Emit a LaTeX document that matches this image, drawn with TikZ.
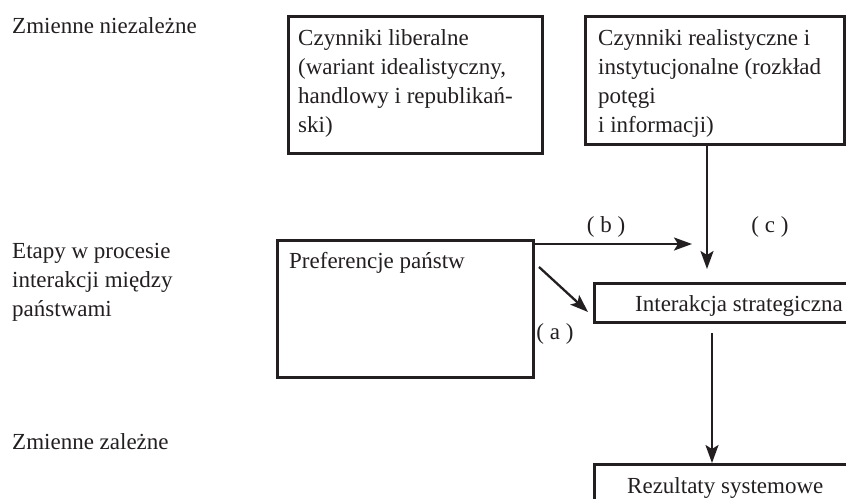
\documentclass[tikz,border=0pt]{standalone}
\usepackage{fontspec}
\setmainfont{Liberation Serif}
\usetikzlibrary{arrows.meta,positioning}
\definecolor{ink}{RGB}{35,31,32}
\tikzset{
  >={Stealth[length=18pt,width=13pt,inset=4pt]},
  frame/.style={draw=ink,line width=2.6pt,inner sep=0pt,anchor=north west},
  txt/.style={text=ink,font=\fontsize{23}{29}\selectfont,align=left,inner sep=0pt,anchor=base west},
  tag/.style={text=ink,font=\fontsize{23}{29}\selectfont,inner sep=0pt,anchor=base},
  flow/.style={->,draw=ink,line width=2.3pt},
}
\begin{document}
\begin{tikzpicture}[x=1pt,y=-1pt]
  \useasboundingbox (0,0) rectangle (846,498);
  \clip (0,0) rectangle (846,498);
  % row labels (multi-line texts sit on their last baseline)
  \node[txt] (indep) at (12,33) {Zmienne niezależne};
  \node[txt] (stages) at (12,316) {Etapy w procesie\\interakcji między\\państwami};
  \node[txt] (dep) at (12,449) {Zmienne zależne};
  % boxes
  \node[frame,minimum width=254pt,minimum height=137pt] (liberal) at (287,15) {};
  \node[frame,minimum width=259pt,minimum height=128pt] (realist) at (584,15) {};
  \node[frame,minimum width=256pt,minimum height=137pt] (pref) at (276,239) {};
  \node[frame,minimum width=262pt,minimum height=39pt] (inter) at (593,282) {};
  \node[frame,minimum width=262pt,minimum height=48pt] (result) at (593,463) {};
  \node[txt] (liberaltxt) at (298,132) {Czynniki liberalne\\(wariant idealistyczny,\\handlowy i republikań-\\ski)};
  \node[txt] (realisttxt) at (598,132) {Czynniki realistyczne i\\instytucjonalne (rozkład\\potęgi\\i informacji)};
  \node[txt] (preftxt) at (289,268) {Preferencje państw};
  \node[txt] (intertxt) at (635,311) {Interakcja strategiczna};
  \node[txt] (resulttxt) at (627,493) {Rezultaty systemowe};
  % arrows
  \coordinate (aS) at (539,267);
  \coordinate (aE) at (588,312);
  \coordinate (bS) at (535,244);
  \coordinate (bE) at (692,244);
  \coordinate (cE) at (707,269);
  \coordinate (dS) at (712,333);
  \draw[flow] (aS) -- (aE);
  \draw[flow] (bS) -- (bE);
  \draw[flow] (realist.south -| cE) -- (cE);
  \draw[flow] (dS) -- (dS |- result.north);
  \node[tag] (alab) at (555,339) {( a )};
  \node[tag] (blab) at (606,232) {( b )};
  \node[tag] (clab) at (770,232) {( c )};
\end{tikzpicture}
\end{document}
